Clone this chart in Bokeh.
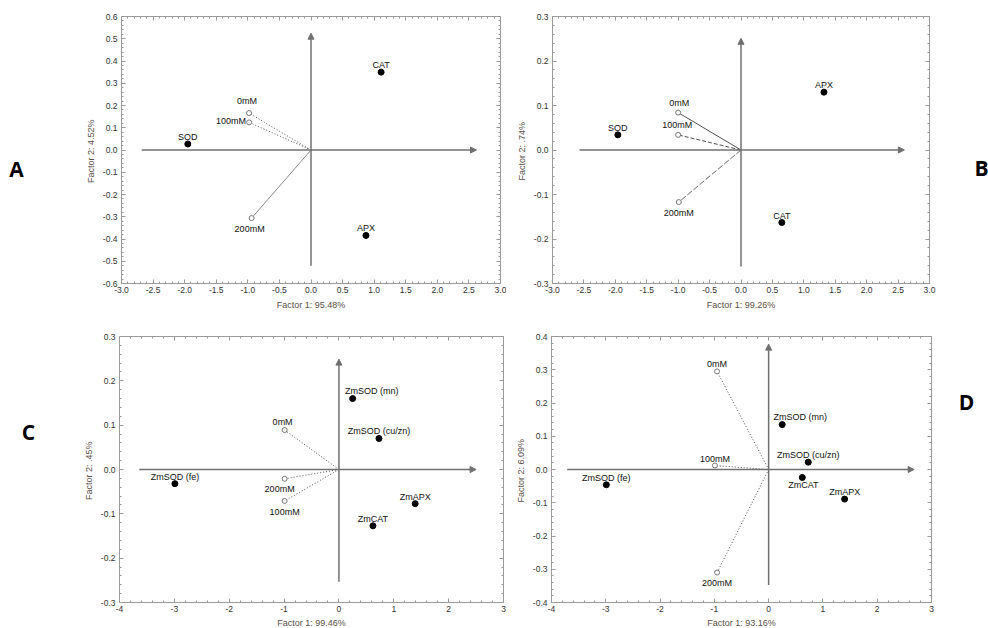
from bokeh.plotting import figure
from bokeh.models import (Label, Arrow, NormalHead, FixedTicker, LinearAxis,
                          NumeralTickFormatter, Range1d)
from bokeh.layouts import column, row
from bokeh.embed import file_html
from bokeh.resources import INLINE

panel_letters = ["A", "B", "C", "D"]

# ---------------- Panel A ----------------
a_var_names = ["SOD", "CAT", "APX"]
a_var_x = [-1.95, 1.11, 0.87]
a_var_y = [0.027, 0.350, -0.384]
a_case_names = ["0mM", "100mM", "200mM"]
a_case_x = [-0.98, -0.98, -0.94]
a_case_y = [0.166, 0.124, -0.306]
a_xlabel = "Factor 1: 95.48%"
a_ylabel = "Factor 2:  4.52%"
a_xticks = [-3.0, -2.5, -2.0, -1.5, -1.0, -0.5, 0.0, 0.5, 1.0, 1.5, 2.0, 2.5, 3.0]
a_yticks = [-0.6, -0.5, -0.4, -0.3, -0.2, -0.1, 0.0, 0.1, 0.2, 0.3, 0.4, 0.5, 0.6]
a_h_arrow = [-2.68, 2.62]
a_v_arrow = [-0.52, 0.525]

# ---------------- Panel B ----------------
b_var_names = ["SOD", "APX", "CAT"]
b_var_x = [-1.96, 1.32, 0.65]
b_var_y = [0.034, 0.130, -0.163]
b_case_names = ["0mM", "100mM", "200mM"]
b_case_x = [-1.0, -1.0, -0.99]
b_case_y = [0.084, 0.034, -0.117]
b_xlabel = "Factor 1: 99.26%"
b_ylabel = "Factor 2:  .74%"
b_xticks = [-3.0, -2.5, -2.0, -1.5, -1.0, -0.5, 0.0, 0.5, 1.0, 1.5, 2.0, 2.5, 3.0]
b_yticks = [-0.3, -0.2, -0.1, 0.0, 0.1, 0.2, 0.3]
b_h_arrow = [-2.57, 2.6]
b_v_arrow = [-0.262, 0.251]

# ---------------- Panel C ----------------
c_var_names = ["ZmSOD (fe)", "ZmSOD (mn)", "ZmSOD (cu/zn)", "ZmAPX", "ZmCAT"]
c_var_x = [-2.99, 0.25, 0.73, 1.39, 0.62]
c_var_y = [-0.032, 0.160, 0.070, -0.077, -0.127]
c_case_names = ["0mM", "200mM", "100mM"]
c_case_x = [-0.99, -0.99, -0.99]
c_case_y = [0.089, -0.021, -0.071]
c_xlabel = "Factor 1: 99.46%"
c_ylabel = "Factor 2:  .45%"
c_xticks = [-4, -3, -2, -1, 0, 1, 2, 3]
c_yticks = [-0.3, -0.2, -0.1, 0.0, 0.1, 0.2, 0.3]
c_h_arrow = [-3.64, 2.5]
c_v_arrow = [-0.253, 0.249]

# ---------------- Panel D ----------------
d_var_names = ["ZmSOD (fe)", "ZmSOD (mn)", "ZmSOD (cu/zn)", "ZmCAT", "ZmAPX"]
d_var_x = [-2.99, 0.25, 0.73, 0.62, 1.40]
d_var_y = [-0.046, 0.135, 0.022, -0.024, -0.089]
d_case_names = ["0mM", "100mM", "200mM"]
d_case_x = [-0.95, -0.99, -0.95]
d_case_y = [0.295, 0.012, -0.310]
d_xlabel = "Factor 1: 93.16%"
d_ylabel = "Factor 2:  6.09%"
d_xticks = [-4, -3, -2, -1, 0, 1, 2, 3]
d_yticks = [-0.4, -0.3, -0.2, -0.1, 0.0, 0.1, 0.2, 0.3, 0.4]
d_h_arrow = [-3.71, 2.68]
d_v_arrow = [-0.347, 0.377]

FONT = "Liberation Sans"
FRAME = "#9a9a9a"
ARROW = "#707070"
TICKTXT = "#333333"
TITLETXT = "#5a5048"


def minors(ticks, n=5):
    out = []
    for a, b in zip(ticks[:-1], ticks[1:]):
        step = (b - a) / n
        out += [round(a + k * step, 5) for k in range(1, n)]
    return out


def style_axis(ax, ticks, fmt, show_labels, standoff, label_standoff):
    ax.ticker = FixedTicker(ticks=ticks, minor_ticks=minors(ticks))
    ax.major_tick_in = 4
    ax.major_tick_out = 0
    ax.minor_tick_in = 2
    ax.minor_tick_out = 0
    ax.axis_line_color = FRAME
    ax.major_tick_line_color = FRAME
    ax.minor_tick_line_color = FRAME
    ax.formatter = NumeralTickFormatter(format=fmt)
    if show_labels:
        ax.major_label_text_font = FONT
        ax.major_label_text_font_size = "8.5px"
        ax.major_label_text_color = TICKTXT
        ax.major_label_standoff = standoff
        ax.axis_label_text_font = FONT
        ax.axis_label_text_font_size = "9px"
        ax.axis_label_text_font_style = "normal"
        ax.axis_label_text_color = TITLETXT
        ax.axis_label_standoff = label_standoff
    else:
        ax.major_label_text_font_size = "1px"
        ax.major_label_text_color = None
        ax.major_label_standoff = 0
        ax.axis_line_color = None


def panel(var_names, var_x, var_y, case_names, case_x, case_y, xlabel, ylabel,
          xticks, yticks, h_arrow, v_arrow, fmt, dashes, dash_colors, place,
          fw, fh, bl, br, bt, bb, title_standoff):
    p = figure(frame_width=fw, frame_height=fh,
               x_range=Range1d(xticks[0], xticks[-1]),
               y_range=Range1d(yticks[0], yticks[-1]),
               output_backend="svg", toolbar_location=None,
               min_border_left=bl, min_border_right=br,
               min_border_top=bt, min_border_bottom=bb,
               x_axis_label=xlabel, y_axis_label=ylabel)
    p.grid.visible = False
    p.outline_line_color = FRAME
    p.outline_line_width = 1
    p.background_fill_color = "white"
    p.border_fill_color = "white"

    style_axis(p.xaxis[0], xticks, fmt, True, 3, title_standoff)
    style_axis(p.yaxis[0], yticks, "0.0", True, 4, 4)
    top = LinearAxis()
    style_axis(top, xticks, fmt, False, 0, 0)
    p.add_layout(top, "above")
    right = LinearAxis()
    style_axis(right, yticks, "0.0", False, 0, 0)
    p.add_layout(right, "right")

    # axis arrows
    p.add_layout(Arrow(end=NormalHead(size=6, fill_color=ARROW, line_color=ARROW, line_width=1),
                       x_start=h_arrow[0], y_start=0, x_end=h_arrow[1], y_end=0,
                       line_color=ARROW, line_width=1.5))
    p.add_layout(Arrow(end=NormalHead(size=6, fill_color=ARROW, line_color=ARROW, line_width=1),
                       x_start=0, y_start=v_arrow[0], x_end=0, y_end=v_arrow[1],
                       line_color=ARROW, line_width=1.5))

    # case vectors
    for cx, cy, dsh, col in zip(case_x, case_y, dashes, dash_colors):
        p.line([0, cx], [0, cy], line_color=col, line_width=1, line_dash=dsh)
    p.scatter(case_x, case_y, size=5, fill_color="white", line_color="#777777", line_width=1)
    p.scatter(var_x, var_y, size=6, fill_color="black", line_color="black")

    names = list(var_names) + list(case_names)
    xs = list(var_x) + list(case_x)
    ys = list(var_y) + list(case_y)
    for nm, x, y in zip(names, xs, ys):
        dx, dy, align = place.get(nm, (0, 7, "center"))
        p.add_layout(Label(x=x, y=y, text=nm, x_offset=dx, y_offset=dy,
                           text_align=align, text_baseline="middle",
                           text_font=FONT, text_font_size="9px", text_color="#111111"))
    return p


def letter_fig(letter, w, fh, bt, bb, lx, ly):
    # frame aligned with the neighbouring panel's frame; (lx, ly) measured from frame bottom-left
    f = figure(frame_width=w, frame_height=fh, x_range=Range1d(0, w), y_range=Range1d(0, fh),
               x_axis_type=None, y_axis_type=None, output_backend="svg",
               toolbar_location=None, min_border_left=0, min_border_right=0,
               min_border_top=bt, min_border_bottom=bb)
    f.outline_line_color = None
    f.add_layout(Label(x=lx, y=ly, text=letter, text_align="center", text_baseline="middle",
                       text_font="Open Sans", text_font_size="21px",
                       text_font_style="bold", text_color="black"))
    return f


DOT = "1 2"
pA = panel(a_var_names, a_var_x, a_var_y, a_case_names, a_case_x, a_case_y,
           a_xlabel, a_ylabel, a_xticks, a_yticks, a_h_arrow, a_v_arrow, "0.0",
           [DOT, DOT, "solid"], ["#555555", "#555555", "#8a8a8a"],
           {"0mM": (-2, 12, "center"), "100mM": (-3, 1, "right"), "200mM": (-2, -11, "center")},
           379, 267, 81, 6, 16, 28, 4)
pB = panel(b_var_names, b_var_x, b_var_y, b_case_names, b_case_x, b_case_y,
           b_xlabel, b_ylabel, b_xticks, b_yticks, b_h_arrow, b_v_arrow, "0.0",
           ["solid", "4 2", "6 2"], ["#505050", "#505050", "#6a6a6a"],
           {"0mM": (1, 10, "center"), "100mM": (-1, 10, "center"), "200mM": (0, -11, "center")},
           377, 267, 46, 11, 16, 28, 4)
pC = panel(c_var_names, c_var_x, c_var_y, c_case_names, c_case_x, c_case_y,
           c_xlabel, c_ylabel, c_xticks, c_yticks, c_h_arrow, c_v_arrow, "0",
           [DOT, DOT, DOT], ["#555555", "#555555", "#555555"],
           {"ZmSOD (mn)": (19, 8, "center"), "0mM": (-2, 8, "center"),
            "200mM": (-5, -10, "center"), "100mM": (0, -11, "center")},
           384, 266, 79, 6, 24, 27, 3)
pD = panel(d_var_names, d_var_x, d_var_y, d_case_names, d_case_x, d_case_y,
           d_xlabel, d_ylabel, d_xticks, d_yticks, d_h_arrow, d_v_arrow, "0",
           [DOT, DOT, DOT], ["#555555", "#555555", "#555555"],
           {"ZmSOD (mn)": (18, 8, "center"), "ZmCAT": (1, -8, "center"),
            "200mM": (0, -10, "center")},
           380, 266, 42, 9, 24, 27, 3)

lA = letter_fig(panel_letters[0], 40, 267, 16, 28, 16, 115)
lB = letter_fig(panel_letters[1], 48, 267, 16, 28, 41, 116)
lC = letter_fig(panel_letters[2], 40, 266, 24, 27, 28, 171)
lD = letter_fig(panel_letters[3], 48, 266, 24, 27, 26, 201)

layout = column(row(lA, pA, pB, lB), row(lC, pC, pD, lD))
open("out.html", "w").write(file_html(layout, INLINE, title="PCA biplots"))
